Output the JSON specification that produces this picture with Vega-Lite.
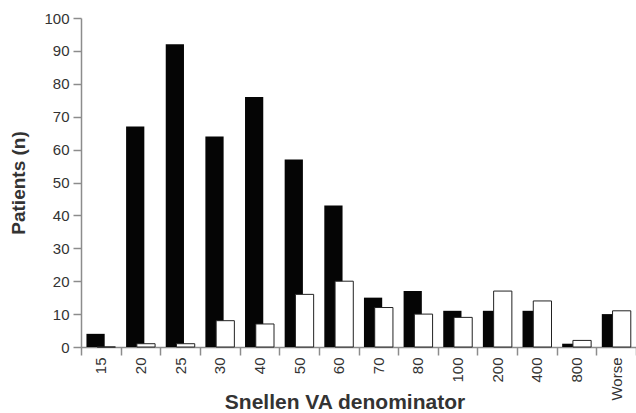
{
  "$schema": "https://vega.github.io/schema/vega-lite/v6.json",
  "autosize": "none",
  "padding": {"left": 81, "top": 18, "right": 0, "bottom": 66},
  "width": 555,
  "height": 329,
  "background": "white",
  "config": {
    "view": {"stroke": null},
    "font": "Liberation Sans",
    "axis": {
      "domainColor": "#8c8c8c",
      "tickColor": "#8c8c8c",
      "domainWidth": 1.5,
      "tickWidth": 1.5,
      "labelColor": "#333333",
      "labelFontSize": 15,
      "titleFontSize": 19,
      "titleFontWeight": "bold",
      "titleColor": "#333333",
      "labelFont": "Liberation Sans",
      "titleFont": "Liberation Sans",
      "grid": false
    }
  },
  "data": {
    "values": [
      {"va": "15", "black": 4, "white": 0},
      {"va": "20", "black": 67, "white": 1},
      {"va": "25", "black": 92, "white": 1},
      {"va": "30", "black": 64, "white": 8},
      {"va": "40", "black": 76, "white": 7},
      {"va": "50", "black": 57, "white": 16},
      {"va": "60", "black": 43, "white": 20},
      {"va": "70", "black": 15, "white": 12},
      {"va": "80", "black": 17, "white": 10},
      {"va": "100", "black": 11, "white": 9},
      {"va": "200", "black": 11, "white": 17},
      {"va": "400", "black": 11, "white": 14},
      {"va": "800", "black": 1, "white": 2},
      {"va": "Worse", "black": 10, "white": 11}
    ]
  },
  "encoding": {
    "x": {
      "field": "va",
      "type": "nominal",
      "sort": null,
      "scale": {"paddingInner": 0, "paddingOuter": 0},
      "axis": {
        "title": "Snellen VA denominator",
        "titleFontSize": 21,
        "labelAngle": -90,
        "labelPadding": 2,
        "tickBand": "extent",
        "tickSize": 8,
        "titleX": 263.5,
        "titleAlign": "center",
        "titleY": 61,
        "titleBaseline": "alphabetic"
      }
    }
  },
  "layer": [
    {
      "mark": {"type": "bar", "color": "#050505", "width": {"band": 0.46}, "xOffset": -5.25},
      "encoding": {
        "y": {
          "field": "black",
          "type": "quantitative",
          "scale": {"domain": [0, 100]},
          "axis": {
            "title": "Patients (n)",
            "values": [0, 10, 20, 30, 40, 50, 60, 70, 80, 90, 100],
            "tickSize": 8,
            "labelPadding": 4,
            "titlePadding": 15
          }
        }
      }
    },
    {
      "mark": {"type": "bar", "fill": "white", "stroke": "#222222", "strokeWidth": 1, "width": {"band": 0.46}, "xOffset": 5.5},
      "encoding": {
        "y": {
          "field": "white",
          "type": "quantitative",
          "scale": {"domain": [0, 100]},
          "axis": {
            "title": "Patients (n)",
            "values": [0, 10, 20, 30, 40, 50, 60, 70, 80, 90, 100],
            "tickSize": 8,
            "labelPadding": 4,
            "titlePadding": 15
          }
        }
      }
    }
  ]
}
